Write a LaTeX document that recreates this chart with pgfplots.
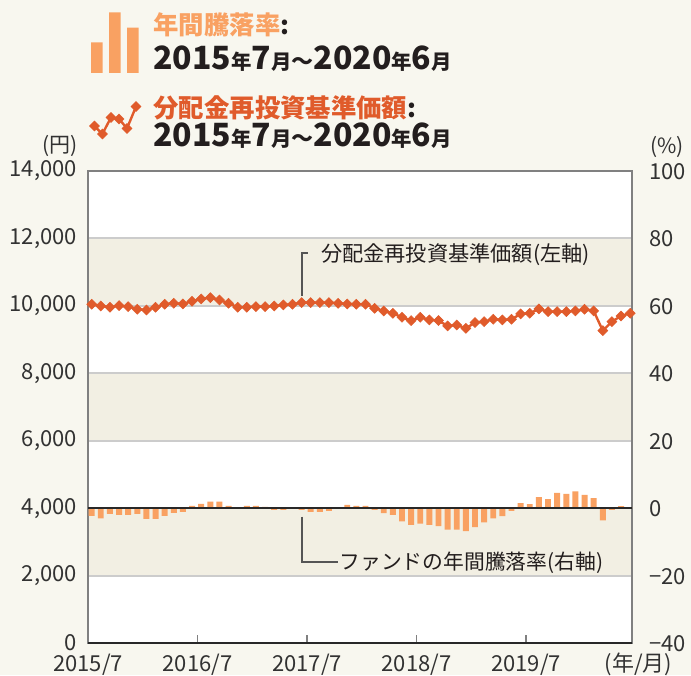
\documentclass[border=0pt]{standalone}
\usepackage{pgfplots}
\usepackage{pgfplotstable}
\pgfplotsset{compat=1.18}
\usepackage{fontspec}
\setmainfont{Noto Sans CJK JP}
\definecolor{bgc}{RGB}{248,247,239}
\definecolor{beigec}{RGB}{242,239,227}
\definecolor{gridc}{RGB}{204,204,204}
\definecolor{framec}{RGB}{128,128,128}
\definecolor{barc}{RGB}{249,161,98}
\definecolor{linec}{RGB}{224,91,43}
\definecolor{textc}{RGB}{35,30,30}
\definecolor{tickc}{RGB}{50,50,50}
\definecolor{annc}{RGB}{85,85,85}
\definecolor{zeroc}{RGB}{40,40,40}

\pgfplotstableread{
x v r
0.4 10047 -2.3
1.4 9997 -3.0
2.4 9958 -1.7
3.4 10007 -2.0
4.4 9977 -2.0
5.4 9898 -1.7
6.4 9878 -3.2
7.4 9958 -3.2
8.4 10047 -2.3
9.4 10076 -1.4
10.4 10057 -1.1
11.4 10136 0.7
12.4 10205 1.3
13.4 10244 1.9
14.4 10175 1.9
15.4 10076 0.7
16.4 9958 0.0
17.4 9958 0.7
18.4 9977 0.7
19.4 9977 0.4
20.4 9997 -0.5
21.4 10027 -0.5
22.4 10047 0.0
23.4 10096 -0.5
24.4 10096 -1.1
25.4 10096 -1.1
26.4 10096 -0.8
27.4 10076 0.0
28.4 10056 1.0
29.4 10047 0.7
30.4 10047 0.7
31.4 9928 -0.5
32.4 9849 -1.5
33.4 9780 -2.0
34.4 9661 -3.9
35.4 9562 -5.0
36.4 9661 -4.6
37.4 9582 -5.0
38.4 9562 -5.3
39.4 9404 -6.4
40.4 9433 -6.4
41.4 9335 -6.8
42.4 9503 -5.6
43.4 9532 -4.2
44.4 9602 -3.0
45.4 9582 -2.4
46.4 9602 -0.8
47.4 9760 1.5
48.4 9780 1.2
49.4 9908 3.3
50.4 9829 2.7
51.4 9829 4.5
52.4 9829 4.2
53.4 9849 5.0
54.4 9898 3.9
55.4 9849 3.0
56.4 9265 -3.6
57.4 9532 -0.5
58.4 9700 0.6
59.4 9780 0.3
}\datatab

\newcommand{\tickfont}{\fontsize{11}{13}\selectfont}
\newcommand{\bignum}[1]{{\fontsize{16}{17}\selectfont #1}}
\newcommand{\smjp}[1]{{\fontsize{10.2}{12}\selectfont #1}}

\pgfplotsset{base/.style={scale only axis, width=272pt, height=236pt,
  at={(44pt,16pt)}, anchor=south west, xmin=0, xmax=59.6,
  scaled y ticks=false, scaled x ticks=false}}

\begin{document}
\begin{tikzpicture}
\useasboundingbox (0,0) rectangle (345.5pt,337.5pt);
\fill[bgc] (0,0) rectangle (345.5pt,337.5pt);

% background bands, frame, left ticks, x ticks
\begin{axis}[base, ymin=0, ymax=14000, axis on top,
  axis background/.style={fill=white},
  axis line style={draw=framec, line width=0.9pt},
  ytick={0,2000,4000,6000,8000,10000,12000,14000},
  yticklabels={0,{2,000},{4,000},{6,000},{8,000},{10,000},{12,000},{14,000}},
  ymajorgrids, major grid style={draw=gridc, line width=1pt},
  ytick style={draw=none},
  xtick={0,12,24,36,48},
  xticklabels={2015/7,2016/7,2017/7,2018/7,2019/7},
  xtick pos=bottom, ytick pos=left, tick align=inside,
  major tick length=4pt,
  xtick style={draw=framec, line width=0.8pt},
  yticklabel style={font=\tickfont, text=tickc, xshift=-2pt, yshift=0pt, inner ysep=0pt},
  xticklabel style={font=\tickfont, text=tickc, yshift=-2.2pt},
]
\fill[beigec] (0,2000) rectangle (59.6,4000);
\fill[beigec] (0,6000) rectangle (59.6,8000);
\fill[beigec] (0,10000) rectangle (59.6,12000);
\end{axis}

% bars, right axis
\begin{axis}[base, ymin=-40, ymax=100,
  axis line style={draw=none},
  ytick={-40,-20,0,20,40,60,80,100},
  yticklabels={−40,−20,0,20,40,60,80,100},
  yticklabel pos=right, ytick style={draw=none}, xtick=\empty,
  yticklabel style={font=\tickfont, text=tickc, xshift=5pt, yshift=-0.3pt},
]
\addplot[ybar, bar width=0.65, fill=barc, draw=none] table[x=x, y=r] {\datatab};
\draw[zeroc, line width=0.9pt] (0,0) -- (59.6,0);
\end{axis}

% line, annotations
\begin{axis}[base, ymin=0, ymax=14000, hide axis, clip=false]
\addplot[linec, line width=1.2pt, mark=square*, mark size=1.75pt,
  mark options={rotate=45, solid, fill=linec, draw=linec, line width=0.3pt}]
  table[x=x, y=v] {\datatab};
\draw[zeroc, line width=0.9pt] (rel axis cs:0,0) -- (rel axis cs:1,0);
\draw[annc, line width=0.8pt] (23.45,10302) -- (23.45,11568) -- (24.1,11568);
\node[anchor=west, inner sep=0, text=textc, font=\fontsize{10.6}{12}\selectfont] at (25.5,11530) {分配金再投資基準価額(左軸)};
\draw[annc, line width=0.8pt] (23.45,3746) -- (23.45,2403) -- (27.4,2403);
\node[anchor=west, inner sep=0, text=textc, font=\fontsize{10.4}{12}\selectfont] at (27.5,2380) {ファンドの年間騰落率(右軸)};
\node[anchor=center, inner sep=0, text=tickc, font=\tickfont] at (60.3,-640) {(年/月)};
\end{axis}

% legend icons
\begin{axis}[scale only axis, width=35pt, height=70pt, at={(40pt,265pt)}, anchor=south west,
  xmin=40, xmax=75, ymin=-36, ymax=34, hide axis, clip=false]
\addplot[ybar, bar width=5.8, fill=barc, draw=none] coordinates {(48.4,15.3) (57.4,30.3) (66.4,22.7)};
\addplot[linec, line width=1.2pt, mark=square*, mark size=1.75pt,
  mark options={rotate=45, solid, fill=linec, draw=linec, line width=0.3pt}]
  coordinates {(47.2,-26.5) (51.2,-30.5) (55.5,-22.2) (59.5,-23) (63.5,-27.7) (68,-16.8)};
\end{axis}

% titles
\node[anchor=west, inner sep=0, text=barc, font=\bfseries\fontsize{12.7}{14}\selectfont] at (76.5pt,325pt) {年間騰落率\textcolor{textc}{:}};
\node[anchor=base west, inner sep=0, text=textc, font=\bfseries] at (76.5pt,302.5pt)
  {\bignum{2015}\smjp{年}\bignum{7}\smjp{月}{\fontsize{11}{12}\selectfont 〜}\bignum{2020}\smjp{年}\bignum{6}\smjp{月}};
\node[anchor=west, inner sep=0, text=linec, font=\bfseries\fontsize{12.7}{14}\selectfont] at (76.5pt,283.5pt) {分配金再投資基準価額\textcolor{textc}{:}};
\node[anchor=base west, inner sep=0, text=textc, font=\bfseries] at (76.5pt,264pt)
  {\bignum{2015}\smjp{年}\bignum{7}\smjp{月}{\fontsize{11}{12}\selectfont 〜}\bignum{2020}\smjp{年}\bignum{6}\smjp{月}};

% units
\node[anchor=center, inner sep=0, text=tickc, font=\fontsize{10.5}{12}\selectfont] at (30pt,264.5pt) {(円)};
\node[anchor=center, inner sep=0, text=tickc, font=\fontsize{10.5}{12}\selectfont] at (333.5pt,264pt) {(\%)};
\end{tikzpicture}
\end{document}
